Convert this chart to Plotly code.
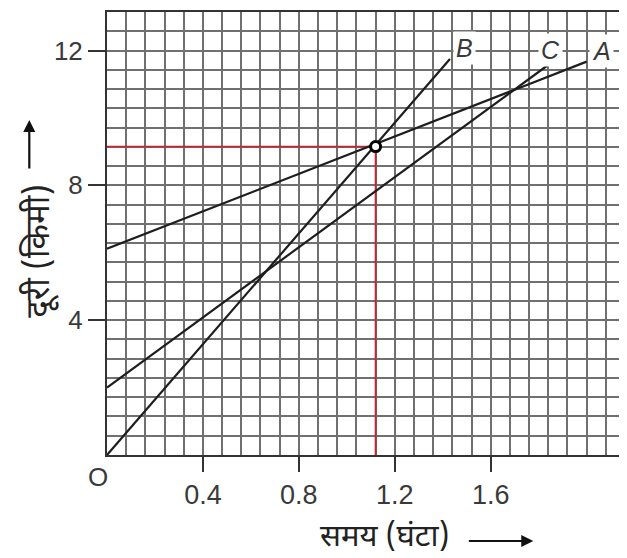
import plotly.graph_objects as go

# ---- data ----
time_A = [0.0, 2.0]
dist_A = [6.12, 11.67]
time_B = [0.0, 1.43]
dist_B = [0.0, 11.75]
time_C = [0.0, 1.845]
dist_C = [2.0, 11.6]
meet_time = 1.12
meet_dist = 9.15
label_names = ["B", "C", "A"]
label_time = [1.49, 1.85, 2.06]
label_dist = [12.08, 12.03, 12.0]
x_ticks = [0.4, 0.8, 1.2, 1.6]
x_tick_labels = ["0.4", "0.8", "1.2", "1.6"]
y_ticks = [4, 8, 12]
y_tick_labels = ["4", "8", "12"]
x_max = 2.16
y_max = 23 * 4 / 7

GRID = "#707070"
LINE = "#1e1e1e"
RED = "#c4262e"
TXT = "#3a3a3a"
DEVA = "Noto Sans Devanagari, Lohit Devanagari, FreeSans, Noto Sans, sans-serif"
LAT = "Liberation Sans, Arial, sans-serif"

fig = go.Figure()

# red guide lines
fig.add_trace(go.Scatter(x=[0, meet_time], y=[meet_dist, meet_dist], mode="lines",
                         line=dict(color=RED, width=1.8), hoverinfo="skip"))
fig.add_trace(go.Scatter(x=[meet_time, meet_time], y=[0, meet_dist], mode="lines",
                         line=dict(color=RED, width=1.8), hoverinfo="skip"))

for tx, dy in [(time_A, dist_A), (time_B, dist_B), (time_C, dist_C)]:
    fig.add_trace(go.Scatter(x=tx, y=dy, mode="lines",
                             line=dict(color=LINE, width=2.2)))

fig.add_trace(go.Scatter(x=[meet_time], y=[meet_dist], mode="markers",
                         marker=dict(symbol="circle", size=10, color="white",
                                     line=dict(color="black", width=3))))

for name, tx, dy in zip(label_names, label_time, label_dist):
    fig.add_annotation(x=tx, y=dy, xref="x", yref="y", text="<i>%s</i>" % name,
                       showarrow=False, bgcolor="white", borderpad=2,
                       font=dict(family=LAT, size=25, color=TXT))

# origin label
fig.add_annotation(x=0, y=0, xref="x", yref="y", text="O", showarrow=False,
                   xshift=-9, yshift=-22, font=dict(family=LAT, size=26, color=TXT))

# axis titles
fig.add_annotation(xref="paper", yref="paper", x=(386 - 107) / 520, y=(455 - 541) / 443,
                   text="समय (घंटा)", showarrow=False, yshift=-19, borderpad=0,
                   font=dict(family=DEVA, size=31, color="#222"))
fig.add_annotation(xref="paper", yref="paper", x=(535 - 107) / 520, y=(455 - 541) / 443,
                   text="", showarrow=True, ax=-66, ay=0, arrowhead=2, arrowsize=1.1,
                   arrowwidth=2.2, arrowcolor="#111")
fig.add_annotation(xref="paper", yref="paper", x=(29 - 107) / 520, y=(455 - 251) / 443,
                   text="दूरी (किमी)", showarrow=False, textangle=-90, xshift=-12,
                   font=dict(family=DEVA, size=33, color="#222"))
fig.add_annotation(xref="paper", yref="paper", x=(29 - 107) / 520, y=(455 - 120) / 443,
                   text="", showarrow=True, ax=0, ay=50, arrowhead=2, arrowsize=1.1,
                   arrowwidth=2.2, arrowcolor="#111")

fig.update_xaxes(range=[0, x_max], tickvals=x_ticks, ticktext=x_tick_labels,
                 ticks="outside", ticklen=15, tickwidth=2, tickcolor="#333",
                 tickfont=dict(family=LAT, size=27, color=TXT),
                 showgrid=True, gridcolor=GRID, gridwidth=1.6, zeroline=False,
                 showline=True, linecolor="#333", linewidth=2, mirror=True,
                 minor=dict(tick0=0, dtick=0.08, showgrid=True, gridcolor=GRID,
                            gridwidth=1.6, ticks=""))
fig.update_yaxes(range=[0, y_max], tickvals=y_ticks, ticktext=y_tick_labels,
                 ticks="outside", ticklen=17, tickwidth=2, tickcolor="#333",
                 tickfont=dict(family=LAT, size=26, color=TXT),
                 showgrid=True, gridcolor=GRID, gridwidth=1.6, zeroline=False,
                 showline=True, linecolor="#333", linewidth=2, mirror=True,
                 minor=dict(tick0=0, dtick=4 / 7, showgrid=True, gridcolor=GRID,
                            gridwidth=1.6, ticks=""))

# page body has an 8px margin; compensate so the plot area sits where the reference's does
fig.update_layout(width=619, height=550, showlegend=False,
                  margin=dict(l=99, r=0, t=4, b=103, pad=0),
                  plot_bgcolor="white", paper_bgcolor="white")

fig.write_html("out.html")
